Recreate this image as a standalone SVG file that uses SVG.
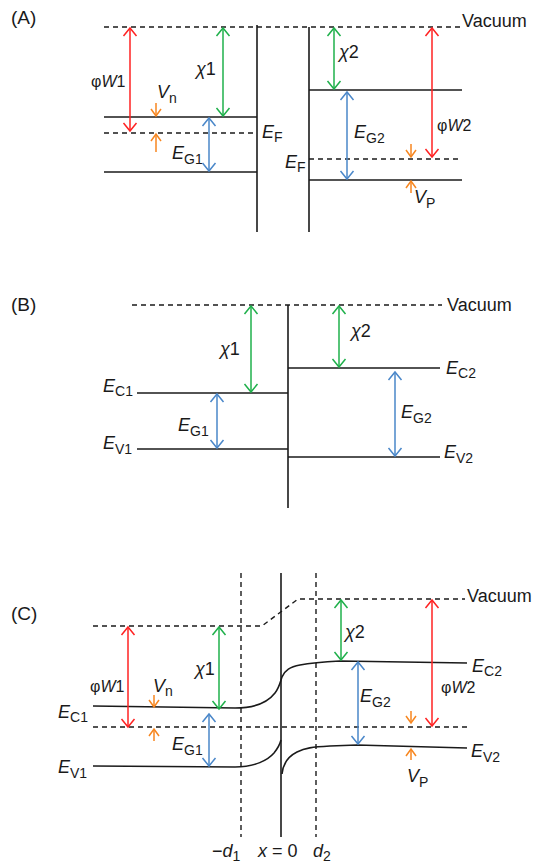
<svg xmlns="http://www.w3.org/2000/svg" width="536" height="868" viewBox="0 0 536 868">
<style>
text{font-family:"Liberation Sans",Arial,sans-serif;font-size:18px;fill:#1a1a1a}
.i{font-style:italic}
.s{font-size:14px;font-style:normal}
.pl{font-size:19px}
.ph{font-size:16px}
.ln{stroke:#1a1a1a;stroke-width:1.6;fill:none}
.dl{stroke:#1a1a1a;stroke-width:1.4;fill:none;stroke-dasharray:5,4}
.r{stroke:#ff2222;stroke-width:1.5;fill:none;marker-start:url(#mr);marker-end:url(#mr)}
.g{stroke:#1fb04b;stroke-width:1.5;fill:none;marker-start:url(#mg);marker-end:url(#mg)}
.b{stroke:#4a87c9;stroke-width:1.5;fill:none;marker-start:url(#mb);marker-end:url(#mb)}
.o{stroke:#f7861f;stroke-width:1.5;fill:none;marker-end:url(#mo)}
</style>
<defs>
<marker id="mr" viewBox="-10 -8 12 16" markerWidth="12" markerHeight="16" markerUnits="userSpaceOnUse" refX="0" refY="0" orient="auto-start-reverse"><path d="M-8,-6.5 L0,0 L-8,6.5" fill="none" stroke="#ff2222" stroke-width="1.5"/></marker>
<marker id="mg" viewBox="-10 -8 12 16" markerWidth="12" markerHeight="16" markerUnits="userSpaceOnUse" refX="0" refY="0" orient="auto-start-reverse"><path d="M-8,-6.5 L0,0 L-8,6.5" fill="none" stroke="#1fb04b" stroke-width="1.5"/></marker>
<marker id="mb" viewBox="-10 -8 12 16" markerWidth="12" markerHeight="16" markerUnits="userSpaceOnUse" refX="0" refY="0" orient="auto-start-reverse"><path d="M-8,-6.5 L0,0 L-8,6.5" fill="none" stroke="#4a87c9" stroke-width="1.5"/></marker>
<marker id="mo" viewBox="-10 -8 12 16" markerWidth="12" markerHeight="16" markerUnits="userSpaceOnUse" refX="0" refY="0" orient="auto"><path d="M-7,-5 L0,0 L-7,5" fill="none" stroke="#f7861f" stroke-width="1.5"/></marker>
</defs>
<rect width="536" height="868" fill="#fff"/>

<!-- Panel A -->
<g id="panelA">
<text class="pl" x="11" y="24">(A)</text>
<line class="dl" x1="104" y1="27" x2="463" y2="27"/>
<text x="462" y="27">Vacuum</text>
<line class="ln" x1="257" y1="25" x2="257" y2="232"/>
<line class="ln" x1="309" y1="27" x2="309" y2="232"/>
<line class="ln" x1="104" y1="117" x2="257" y2="117"/>
<line class="dl" x1="104" y1="133" x2="257" y2="133"/>
<line class="ln" x1="104" y1="172" x2="257" y2="172"/>
<line class="ln" x1="309" y1="90" x2="462" y2="90"/>
<line class="dl" x1="309" y1="159" x2="462" y2="159"/>
<line class="ln" x1="309" y1="180" x2="462" y2="180"/>
<text class="ph" x="91" y="87">φ<tspan class="i">W</tspan>1</text>
<text x="196" y="75"><tspan class="i">χ</tspan>1</text>
<text x="157" y="98"><tspan class="i">V</tspan><tspan class="s" dy="5">n</tspan></text>
<text x="172" y="159"><tspan class="i">E</tspan><tspan class="s" dy="5">G1</tspan></text>
<text x="262" y="138"><tspan class="i">E</tspan><tspan class="s" dy="4">F</tspan></text>
<text x="285" y="168"><tspan class="i">E</tspan><tspan class="s" dy="4">F</tspan></text>
<text x="339" y="58"><tspan class="i">χ</tspan>2</text>
<text x="354" y="138"><tspan class="i">E</tspan><tspan class="s" dy="5">G2</tspan></text>
<text class="ph" x="437" y="131">φ<tspan class="i">W</tspan>2</text>
<text x="414" y="203"><tspan class="i">V</tspan><tspan class="s" dy="5">P</tspan></text>
</g>

<!-- Panel B -->
<g id="panelB">
<text class="pl" x="11" y="311">(B)</text>
<line class="dl" x1="132" y1="305" x2="442" y2="305"/>
<text x="447" y="311">Vacuum</text>
<line class="ln" x1="288" y1="305" x2="288" y2="508"/>
<line class="ln" x1="137" y1="393" x2="288" y2="393"/>
<line class="ln" x1="137" y1="449" x2="288" y2="449"/>
<line class="ln" x1="288" y1="368" x2="440" y2="368"/>
<line class="ln" x1="288" y1="457" x2="440" y2="457"/>
<text x="220" y="355"><tspan class="i">χ</tspan>1</text>
<text x="351" y="337"><tspan class="i">χ</tspan>2</text>
<text x="103" y="392"><tspan class="i">E</tspan><tspan class="s" dy="4">C1</tspan></text>
<text x="103" y="449"><tspan class="i">E</tspan><tspan class="s" dy="5">V1</tspan></text>
<text x="178" y="431"><tspan class="i">E</tspan><tspan class="s" dy="5">G1</tspan></text>
<text x="446" y="374"><tspan class="i">E</tspan><tspan class="s" dy="4">C2</tspan></text>
<text x="401" y="418"><tspan class="i">E</tspan><tspan class="s" dy="5">G2</tspan></text>
<text x="444" y="458"><tspan class="i">E</tspan><tspan class="s" dy="5">V2</tspan></text>
</g>

<!-- Panel C -->
<g id="panelC">
<text class="pl" x="11" y="620">(C)</text>
<path class="dl" d="M93,626 L262,626 L298,599 L465,599"/>
<text x="467" y="602">Vacuum</text>
<line class="dl" x1="93" y1="727" x2="467" y2="727"/>
<line class="dl" x1="241" y1="573" x2="241" y2="837"/>
<line class="dl" x1="316" y1="573" x2="316" y2="837"/>
<line class="ln" x1="281" y1="573" x2="281" y2="837"/>
<path class="ln" d="M93,706 L235,708 C255,708 268,702 275,693 C279,688 280,683 282,677 C285,670 290,667 300,665 C310,663 320,662 340,661 L467,663"/>
<path class="ln" d="M93,766 L235,767 C255,767 268,760 274,753 C278,748 280,744 281,740"/>
<path class="ln" d="M282,774 C283,764 287,757 297,752 C305,748 312,747 330,746 L357,745 L467,748"/>
<text class="ph" x="90" y="692">φ<tspan class="i">W</tspan>1</text>
<text x="153" y="692"><tspan class="i">V</tspan><tspan class="s" dy="4">n</tspan></text>
<text x="195" y="675"><tspan class="i">χ</tspan>1</text>
<text x="58" y="718"><tspan class="i">E</tspan><tspan class="s" dy="4">C1</tspan></text>
<text x="172" y="750"><tspan class="i">E</tspan><tspan class="s" dy="5">G1</tspan></text>
<text x="58" y="773"><tspan class="i">E</tspan><tspan class="s" dy="5">V1</tspan></text>
<text x="212" y="857">−<tspan class="i">d</tspan><tspan class="s" dy="4">1</tspan></text>
<text x="258" y="857"><tspan class="i">x</tspan> = 0</text>
<text x="313" y="857"><tspan class="i">d</tspan><tspan class="s" dy="4">2</tspan></text>
<text x="345" y="638"><tspan class="i">χ</tspan>2</text>
<text x="472" y="672"><tspan class="i">E</tspan><tspan class="s" dy="4">C2</tspan></text>
<text x="360" y="702"><tspan class="i">E</tspan><tspan class="s" dy="5">G2</tspan></text>
<text class="ph" x="441" y="693">φ<tspan class="i">W</tspan>2</text>
<text x="471" y="757"><tspan class="i">E</tspan><tspan class="s" dy="5">V2</tspan></text>
<text x="407" y="782"><tspan class="i">V</tspan><tspan class="s" dy="5">P</tspan></text>
</g>

<!-- Connectors (energy arrows) -->
<g id="connectors">
<line class="r" x1="130" y1="28" x2="130" y2="131"/>
<line class="g" x1="223" y1="28" x2="223" y2="116"/>
<line class="b" x1="209" y1="118" x2="209" y2="171"/>
<line class="o" x1="156" y1="103" x2="156" y2="116"/>
<line class="o" x1="156" y1="152" x2="156" y2="134"/>
<line class="g" x1="334" y1="28" x2="334" y2="89"/>
<line class="b" x1="347" y1="92" x2="347" y2="179"/>
<line class="r" x1="432" y1="28" x2="432" y2="157"/>
<line class="o" x1="411" y1="144" x2="411" y2="157"/>
<line class="o" x1="411" y1="193" x2="411" y2="181"/>

<line class="g" x1="251" y1="306" x2="251" y2="392"/>
<line class="g" x1="339" y1="306" x2="339" y2="367"/>
<line class="b" x1="217" y1="394" x2="217" y2="448"/>
<line class="b" x1="395" y1="372" x2="395" y2="456"/>

<line class="r" x1="128" y1="627" x2="128" y2="727"/>
<line class="g" x1="219" y1="627" x2="219" y2="709"/>
<line class="b" x1="209" y1="714" x2="209" y2="766"/>
<line class="o" x1="154" y1="695" x2="154" y2="707"/>
<line class="o" x1="154" y1="741" x2="154" y2="729"/>
<line class="g" x1="341" y1="600" x2="341" y2="660"/>
<line class="b" x1="358" y1="662" x2="358" y2="744"/>
<line class="r" x1="432" y1="600" x2="432" y2="726"/>
<line class="o" x1="411" y1="711" x2="411" y2="723"/>
<line class="o" x1="411" y1="760" x2="411" y2="749"/>
</g>
</svg>
